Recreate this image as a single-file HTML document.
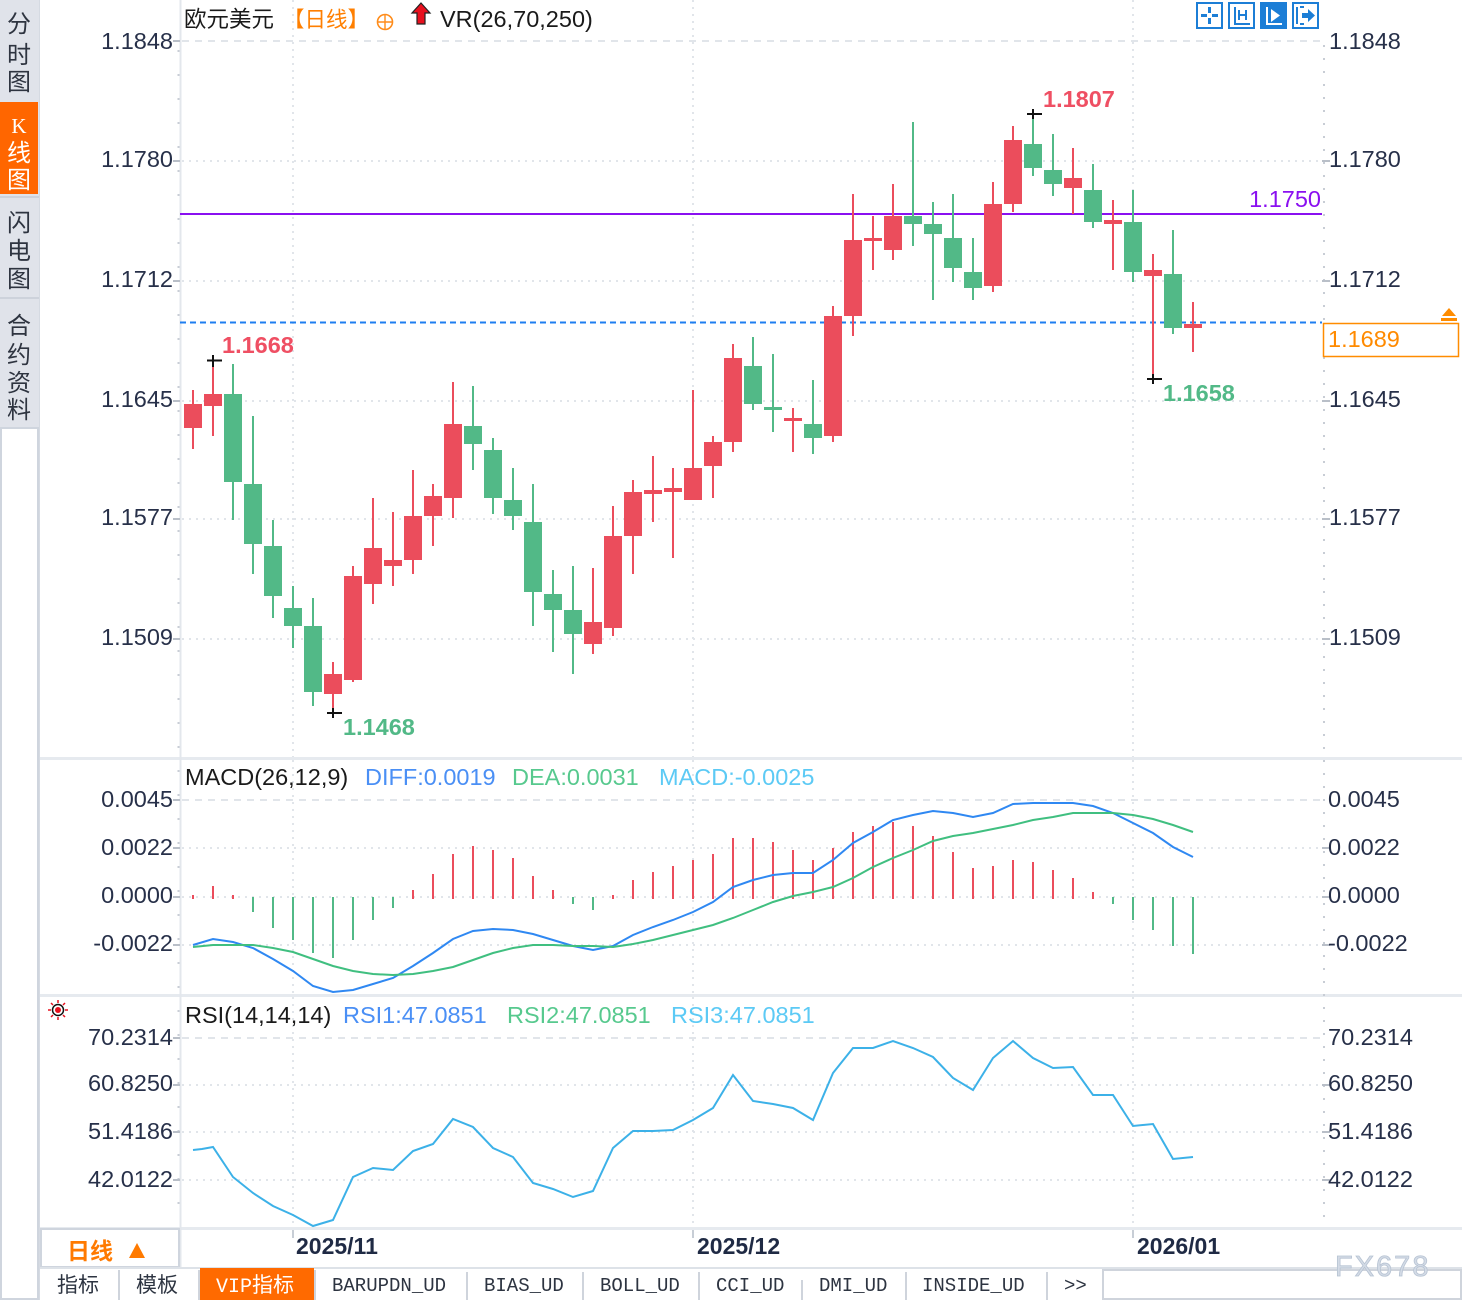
<!DOCTYPE html>
<html><head><meta charset="utf-8"><style>
html,body{margin:0;padding:0;background:#fff;}
svg{display:block;}
text{font-family:"Liberation Sans","Noto Sans CJK SC",sans-serif;}
.cj{font-family:"Noto Sans CJK SC","WenQuanYi Zen Hei",sans-serif;}
.ax{font-size:23.5px;fill:#273049;}
.mono{font-family:"Liberation Mono","Noto Sans CJK SC",monospace;font-size:19px;fill:#2d3441;}
</style></head><body>
<svg width="1462" height="1300" viewBox="0 0 1462 1300" xmlns="http://www.w3.org/2000/svg">
<rect width="1462" height="1300" fill="#fff"/>

<!-- Sidebar -->
<rect x="0" y="0" width="39" height="428" fill="#e0e3ea"/>
<rect x="0" y="102" width="38" height="92" fill="#ff6600"/>
<line x1="0" y1="197" x2="39" y2="197" stroke="#cdd2db" stroke-width="2"/>
<line x1="0" y1="298" x2="39" y2="298" stroke="#cdd2db" stroke-width="2"/>
<rect x="1" y="428" width="37" height="871" fill="#fff" stroke="#cfd5de" stroke-width="2"/>
<g class="cj" font-size="24" fill="#2e3440" text-anchor="middle">
<text x="19" y="32" class="cj">分</text>
<text x="19" y="63" class="cj">时</text>
<text x="19" y="90" class="cj">图</text>
<text x="19" y="133" fill="#fff" style="font-family:'Liberation Serif',serif;font-size:21px">K</text>
<text x="19" y="161" fill="#fff" class="cj">线</text>
<text x="19" y="188" fill="#fff" class="cj">图</text>
<text x="19" y="231" class="cj">闪</text>
<text x="19" y="259" class="cj">电</text>
<text x="19" y="287" class="cj">图</text>
<text x="19" y="334" class="cj">合</text>
<text x="19" y="363" class="cj">约</text>
<text x="19" y="391" class="cj">资</text>
<text x="19" y="418" class="cj">料</text>
</g>
<line x1="39.5" y1="0" x2="39.5" y2="1300" stroke="#d5dae2" stroke-width="1"/>

<!-- Panel separators -->
<rect x="40" y="757" width="1422" height="3" fill="#e6eaef"/>
<rect x="40" y="994" width="1422" height="3" fill="#e6eaef"/>
<rect x="40" y="1227" width="1422" height="3" fill="#e6eaef"/>

<!-- Left axis line -->
<line x1="180.5" y1="0" x2="180.5" y2="1268" stroke="#e3e7ec" stroke-width="2"/>
<line x1="178.5" y1="50" x2="178.5" y2="1225" stroke="#c9ced6" stroke-width="2" stroke-dasharray="2 22"/>
<!-- Right axis dotted -->
<line x1="1324" y1="45" x2="1324" y2="1225" stroke="#c8cdd5" stroke-width="2" stroke-dasharray="2 11"/>

<!-- Main grid -->
<g stroke="#e1e5ea" stroke-width="2" fill="none">
<line x1="182" y1="41" x2="1322" y2="41" stroke-dasharray="7 6"/>
<line x1="182" y1="161" x2="1322" y2="161" stroke-dasharray="2 5"/>
<line x1="182" y1="281" x2="1322" y2="281" stroke-dasharray="2 5"/>
<line x1="182" y1="401" x2="1322" y2="401" stroke-dasharray="2 5"/>
<line x1="182" y1="519" x2="1322" y2="519" stroke-dasharray="2 5"/>
<line x1="182" y1="639" x2="1322" y2="639" stroke-dasharray="2 5"/>
<line x1="293" y1="0" x2="293" y2="757" stroke-dasharray="2 5"/>
<line x1="693" y1="0" x2="693" y2="757" stroke-dasharray="2 5"/>
<line x1="1133" y1="0" x2="1133" y2="757" stroke-dasharray="2 5"/>
<!-- MACD grid -->
<line x1="182" y1="800" x2="1322" y2="800" stroke-dasharray="7 6"/>
<line x1="182" y1="848" x2="1322" y2="848" stroke-dasharray="2 5"/>
<line x1="182" y1="897" x2="1322" y2="897" stroke-dasharray="2 5"/>
<line x1="182" y1="945" x2="1322" y2="945" stroke-dasharray="2 5"/>
<line x1="293" y1="760" x2="293" y2="994" stroke-dasharray="2 5"/>
<line x1="693" y1="760" x2="693" y2="994" stroke-dasharray="2 5"/>
<line x1="1133" y1="760" x2="1133" y2="994" stroke-dasharray="2 5"/>
<!-- RSI grid -->
<line x1="182" y1="1038" x2="1322" y2="1038" stroke-dasharray="7 6"/>
<line x1="182" y1="1085" x2="1322" y2="1085" stroke-dasharray="2 5"/>
<line x1="182" y1="1132" x2="1322" y2="1132" stroke-dasharray="2 5"/>
<line x1="182" y1="1180" x2="1322" y2="1180" stroke-dasharray="2 5"/>
<line x1="293" y1="997" x2="293" y2="1227" stroke-dasharray="2 5"/>
<line x1="693" y1="997" x2="693" y2="1227" stroke-dasharray="2 5"/>
<line x1="1133" y1="997" x2="1133" y2="1227" stroke-dasharray="2 5"/>
</g>

<!-- axis ticks -->
<g stroke="#b9bfc8" stroke-width="2">
<path d="M173 41H180M173 161H180M173 281H180M173 401H180M173 519H180M173 639H180M173 800H180M173 848H180M173 897H180M173 945H180M173 1038H180M173 1085H180M173 1132H180M173 1180H180"/>
<path d="M1322 161H1330M1322 281H1330M1322 401H1330M1322 519H1330M1322 639H1330M1322 848H1330M1322 897H1330M1322 945H1330M1322 1085H1330M1322 1132H1330M1322 1180H1330"/>
</g>

<!-- Left axis labels -->
<g class="ax" text-anchor="end">
<text x="173" y="49" class="ax">1.1848</text>
<text x="173" y="167" class="ax">1.1780</text>
<text x="173" y="287" class="ax">1.1712</text>
<text x="173" y="407" class="ax">1.1645</text>
<text x="173" y="525" class="ax">1.1577</text>
<text x="173" y="645" class="ax">1.1509</text>
<text x="173" y="807" class="ax">0.0045</text>
<text x="173" y="855" class="ax">0.0022</text>
<text x="173" y="903" class="ax">0.0000</text>
<text x="173" y="951" class="ax">-0.0022</text>
<text x="173" y="1045" class="ax">70.2314</text>
<text x="173" y="1091" class="ax">60.8250</text>
<text x="173" y="1139" class="ax">51.4186</text>
<text x="173" y="1187" class="ax">42.0122</text>
</g>
<!-- Right axis labels -->
<g class="ax">
<text x="1329" y="49" class="ax">1.1848</text>
<text x="1329" y="167" class="ax">1.1780</text>
<text x="1329" y="287" class="ax">1.1712</text>
<text x="1329" y="407" class="ax">1.1645</text>
<text x="1329" y="525" class="ax">1.1577</text>
<text x="1329" y="645" class="ax">1.1509</text>
<text x="1328" y="807" class="ax">0.0045</text>
<text x="1328" y="855" class="ax">0.0022</text>
<text x="1328" y="903" class="ax">0.0000</text>
<text x="1328" y="951" class="ax">-0.0022</text>
<text x="1328" y="1045" class="ax">70.2314</text>
<text x="1328" y="1091" class="ax">60.8250</text>
<text x="1328" y="1139" class="ax">51.4186</text>
<text x="1328" y="1187" class="ax">42.0122</text>
</g>

<!-- Header -->
<text x="184" y="27" font-size="22.5" fill="#1a1a1a" class="cj">欧元美元</text>
<text x="283" y="27" font-size="21.5" fill="#ff7f00" class="cj">【日线】</text>
<circle cx="385" cy="22" r="7.5" fill="none" stroke="#ff8c1a" stroke-width="1.6"/>
<path d="M377.5 22H392.5M385 14.5V29.5" stroke="#ff8c1a" stroke-width="1.4"/>
<path d="M421 3L430 13H425V24H417V13H412Z" fill="#e8101e" stroke="#222" stroke-width="1.2"/>
<text x="440" y="27" font-size="23.5" fill="#1a1a1a">VR(26,70,250)</text>

<!-- Top-right buttons -->
<g stroke="#1c7ed6" stroke-width="2" fill="#fff">
<rect x="1197" y="3" width="25" height="25"/>
<rect x="1229" y="3" width="25" height="25"/>
<rect x="1261" y="3" width="25" height="25" fill="#1c7ed6"/>
<rect x="1293" y="3" width="25" height="25"/>
</g>
<g fill="#1c7ed6">
<rect x="1208" y="7" width="3" height="6"/><rect x="1208" y="18" width="3" height="6"/>
<rect x="1201" y="14" width="6" height="3"/><rect x="1212" y="14" width="6" height="3"/>
</g>
<path d="M1235 7V24H1250M1239 10V20M1246 10V20M1239 15H1246" stroke="#1c7ed6" stroke-width="2" fill="none"/>
<path d="M1267 7V24H1282" stroke="#fff" stroke-width="2" fill="none"/>
<path d="M1271 9L1280 15.5L1271 22Z" fill="#fff"/>
<path d="M1297 7V24M1300 7H1304M1300 24H1304" stroke="#1c7ed6" stroke-width="2" fill="none"/>
<path d="M1302 13H1308V9L1315 15.5L1308 22V18H1302Z" fill="#1c7ed6"/>

<!-- Horizontal lines -->
<line x1="180" y1="214" x2="1322" y2="214" stroke="#8a10f0" stroke-width="2"/>
<line x1="180" y1="322.5" x2="1322" y2="322.5" stroke="#1e7ef0" stroke-width="2" stroke-dasharray="6 4"/>

<!-- Candles red -->
<g fill="#eb4d5c">
<rect x="192" y="390" width="2" height="59"/><rect x="184" y="404" width="18" height="24"/>
<rect x="212" y="361" width="2" height="75"/><rect x="204" y="394" width="18" height="12"/>
<rect x="332" y="662" width="2" height="51"/><rect x="324" y="674" width="18" height="20"/>
<rect x="352" y="566" width="2" height="116"/><rect x="344" y="576" width="18" height="104"/>
<rect x="372" y="498" width="2" height="106"/><rect x="364" y="548" width="18" height="36"/>
<rect x="392" y="512" width="2" height="74"/><rect x="384" y="560" width="18" height="6"/>
<rect x="412" y="470" width="2" height="104"/><rect x="404" y="516" width="18" height="44"/>
<rect x="432" y="484" width="2" height="62"/><rect x="424" y="496" width="18" height="20"/>
<rect x="452" y="382" width="2" height="136"/><rect x="444" y="424" width="18" height="74"/>
<rect x="592" y="568" width="2" height="86"/><rect x="584" y="622" width="18" height="22"/>
<rect x="612" y="506" width="2" height="130"/><rect x="604" y="536" width="18" height="92"/>
<rect x="632" y="480" width="2" height="94"/><rect x="624" y="492" width="18" height="44"/>
<rect x="652" y="456" width="2" height="66"/><rect x="644" y="490" width="18" height="4"/>
<rect x="672" y="468" width="2" height="90"/><rect x="664" y="488" width="18" height="4"/>
<rect x="692" y="390" width="2" height="110"/><rect x="684" y="468" width="18" height="32"/>
<rect x="712" y="436" width="2" height="62"/><rect x="704" y="442" width="18" height="24"/>
<rect x="732" y="344" width="2" height="108"/><rect x="724" y="358" width="18" height="84"/>
<rect x="792" y="408" width="2" height="44"/><rect x="784" y="418" width="18" height="3"/>
<rect x="832" y="306" width="2" height="136"/><rect x="824" y="316" width="18" height="120"/>
<rect x="852" y="194" width="2" height="142"/><rect x="844" y="240" width="18" height="76"/>
<rect x="872" y="216" width="2" height="54"/><rect x="864" y="238" width="18" height="3"/>
<rect x="892" y="184" width="2" height="76"/><rect x="884" y="216" width="18" height="34"/>
<rect x="992" y="182" width="2" height="110"/><rect x="984" y="204" width="18" height="82"/>
<rect x="1012" y="126" width="2" height="86"/><rect x="1004" y="140" width="18" height="64"/>
<rect x="1072" y="148" width="2" height="66"/><rect x="1064" y="178" width="18" height="10"/>
<rect x="1112" y="200" width="2" height="70"/><rect x="1104" y="220" width="18" height="4"/>
<rect x="1152" y="254" width="2" height="125"/><rect x="1144" y="270" width="18" height="6"/>
<rect x="1192" y="302" width="2" height="50"/><rect x="1184" y="324" width="18" height="4"/>
</g>
<!-- Candles green -->
<g fill="#52b987">
<rect x="232" y="364" width="2" height="156"/><rect x="224" y="394" width="18" height="88"/>
<rect x="252" y="416" width="2" height="158"/><rect x="244" y="484" width="18" height="60"/>
<rect x="272" y="520" width="2" height="98"/><rect x="264" y="546" width="18" height="50"/>
<rect x="292" y="586" width="2" height="62"/><rect x="284" y="608" width="18" height="18"/>
<rect x="312" y="598" width="2" height="108"/><rect x="304" y="626" width="18" height="66"/>
<rect x="472" y="386" width="2" height="84"/><rect x="464" y="426" width="18" height="18"/>
<rect x="492" y="438" width="2" height="76"/><rect x="484" y="450" width="18" height="48"/>
<rect x="512" y="468" width="2" height="62"/><rect x="504" y="500" width="18" height="16"/>
<rect x="532" y="484" width="2" height="142"/><rect x="524" y="522" width="18" height="70"/>
<rect x="552" y="570" width="2" height="82"/><rect x="544" y="594" width="18" height="16"/>
<rect x="572" y="566" width="2" height="108"/><rect x="564" y="610" width="18" height="24"/>
<rect x="752" y="337" width="2" height="73"/><rect x="744" y="366" width="18" height="38"/>
<rect x="772" y="354" width="2" height="78"/><rect x="764" y="407" width="18" height="3"/>
<rect x="812" y="380" width="2" height="74"/><rect x="804" y="424" width="18" height="14"/>
<rect x="912" y="122" width="2" height="124"/><rect x="904" y="216" width="18" height="8"/>
<rect x="932" y="202" width="2" height="98"/><rect x="924" y="224" width="18" height="10"/>
<rect x="952" y="194" width="2" height="88"/><rect x="944" y="238" width="18" height="30"/>
<rect x="972" y="238" width="2" height="62"/><rect x="964" y="272" width="18" height="16"/>
<rect x="1032" y="114" width="2" height="62"/><rect x="1024" y="144" width="18" height="24"/>
<rect x="1052" y="134" width="2" height="62"/><rect x="1044" y="170" width="18" height="14"/>
<rect x="1092" y="164" width="2" height="64"/><rect x="1084" y="190" width="18" height="32"/>
<rect x="1132" y="190" width="2" height="92"/><rect x="1124" y="222" width="18" height="50"/>
<rect x="1172" y="230" width="2" height="104"/><rect x="1164" y="274" width="18" height="54"/>
</g>

<!-- Cross marks -->
<path d="M207 360.5H222M213 355V367M327 713H342M333 708V718M1027 114H1042M1033 109V119M1147 379H1162M1153 374V384" stroke="#111" stroke-width="2"/>

<!-- Price labels -->
<g font-size="23.5" font-weight="bold">
<text x="222" y="353" fill="#ef4f63">1.1668</text>
<text x="343" y="735" fill="#52b987">1.1468</text>
<text x="1043" y="107" fill="#ef4f63">1.1807</text>
<text x="1163" y="401" fill="#52b987">1.1658</text>
</g>
<text x="1321" y="207" font-size="23.5" fill="#8a10f0" text-anchor="end">1.1750</text>

<!-- Current price box -->
<rect x="1323.5" y="323.5" width="135" height="33" fill="#fff" stroke="#ff8c00" stroke-width="1.5"/>
<text x="1328" y="347" font-size="23.5" fill="#ff8a00">1.1689</text>
<path d="M1449 308L1456 316H1442Z" fill="#ff8c00"/>
<rect x="1441" y="318" width="16" height="3" fill="#ff8c00"/>

<!-- MACD -->
<text x="185" y="785" font-size="23.5" fill="#1a1a1a">MACD(26,12,9)</text>
<text x="365" y="785" font-size="23.5" fill="#4a8ff5">DIFF:0.0019</text>
<text x="512" y="785" font-size="23.5" fill="#57c98e">DEA:0.0031</text>
<text x="659" y="785" font-size="23.5" fill="#5ccaf5">MACD:-0.0025</text>
<path stroke="#eb4d5c" stroke-width="2" d="M193 899V895M213 899V886M233 899V895M413 899V890M433 899V874M453 899V854M473 899V846M493 899V850M513 899V858M533 899V876M553 899V890M613 899V895M633 899V880M653 899V872M673 899V866M693 899V860M713 899V854M733 899V838M753 899V838M773 899V842M793 899V850M813 899V860M833 899V848M853 899V832M873 899V826M893 899V822M913 899V826M933 899V836M953 899V852M973 899V868M993 899V866M1013 899V860M1033 899V862M1053 899V870M1073 899V878M1093 899V892"/>
<path stroke="#52b987" stroke-width="2" d="M253 897V912M273 897V928M293 897V940M313 897V953M333 897V958M353 897V940M373 897V920M393 897V908M573 897V904M593 897V910M1113 897V904M1133 897V920M1153 897V930M1173 897V946M1193 897V954"/>
<polyline fill="none" stroke="#2f88f2" stroke-width="2" points="193,945 213,939 233,942 253,948 273,959 293,971 313,986 333,992 353,990 373,984 393,978 413,966 433,953 453,939 473,931 493,929 513,930 533,934 553,940 573,946 593,950 613,946 633,935 653,927 673,920 693,912 713,902 733,887 753,880 773,875 793,873 813,873 833,860 853,843 873,832 893,820 913,815 933,811 953,813 973,817 993,813 1013,804 1033,803 1053,803 1073,803 1093,806 1113,813 1133,823 1153,833 1173,847 1193,857"/>
<polyline fill="none" stroke="#40bf80" stroke-width="2" points="193,947 213,945 233,945 253,945 273,948 293,952 313,959 333,966 353,971 373,974 393,975 413,974 433,971 453,967 473,960 493,953 513,948 533,945 553,945 573,946 593,946 613,947 633,944 653,940 673,935 693,930 713,925 733,918 753,910 773,902 793,896 813,892 833,887 853,878 873,867 893,858 913,850 933,841 953,836 973,833 993,829 1013,825 1033,820 1053,817 1073,813 1093,813 1113,813 1133,815 1153,819 1173,825 1193,832"/>

<!-- RSI -->
<g stroke="#e8101e" stroke-width="1.5">
<path d="M58 1000V1003M58 1017V1020M48 1010H51M65 1010H68M51 1003L53 1005M65 1003L63 1005M51 1017L53 1015M65 1017L63 1015"/>
</g>
<circle cx="58" cy="1010" r="5.5" fill="#fff" stroke="#111" stroke-width="1.5"/>
<circle cx="58" cy="1010" r="3" fill="#e8101e"/>
<text x="185" y="1023" font-size="23.5" fill="#1a1a1a">RSI(14,14,14)</text>
<text x="343" y="1023" font-size="23.5" fill="#4a8ff5">RSI1:47.0851</text>
<text x="507" y="1023" font-size="23.5" fill="#57c98e">RSI2:47.0851</text>
<text x="671" y="1023" font-size="23.5" fill="#5ccaf5">RSI3:47.0851</text>
<polyline fill="none" stroke="#3cb1e8" stroke-width="2" points="193,1150 202,1149 213,1147 233,1177 253,1193 273,1206 293,1215 313,1226 333,1220 353,1177 373,1168 393,1170 413,1151 433,1144 453,1119 473,1127 493,1148 513,1157 533,1183 553,1189 573,1197 593,1191 613,1148 633,1131 653,1131 673,1130 693,1120 713,1108 733,1075 753,1101 773,1104 793,1108 813,1120 833,1073 853,1048 873,1048 893,1041 913,1048 933,1057 953,1078 973,1090 993,1058 1013,1041 1033,1058 1053,1068 1073,1067 1093,1095 1113,1095 1133,1126 1153,1124 1173,1159 1193,1157"/>

<!-- Date axis -->
<rect x="41" y="1229" width="138" height="38" fill="#fff" stroke="#cfd5de" stroke-width="2"/>
<text x="67" y="1259" font-size="23" font-weight="bold" fill="#ff7a00" class="cj">日线</text>
<path d="M129 1258L137 1243L145 1258Z" fill="#ff7a00"/>
<path d="M293 1230V1238M693 1230V1238M1133 1230V1238" stroke="#c8ced6" stroke-width="2"/>
<g font-size="23" font-weight="bold" fill="#1f2a44">
<text x="296" y="1254">2025/11</text>
<text x="697" y="1254">2025/12</text>
<text x="1137" y="1254">2026/01</text>
</g>

<!-- Bottom tabs -->
<line x1="40" y1="1268" x2="1462" y2="1268" stroke="#dde2e8" stroke-width="2"/>
<rect x="200" y="1268" width="114" height="32" fill="#ff6a00"/>
<g stroke="#cfd4dc" stroke-width="2">
<path d="M119 1270V1300M199 1270V1300M315 1270V1300M467 1272V1300M583 1272V1300M699 1272V1300M802 1280V1300M906 1272V1300M1047 1272V1300"/>
</g>
<rect x="1103" y="1270" width="358" height="29" fill="none" stroke="#cfd4dc" stroke-width="2"/>
<text x="57" y="1292" font-size="21" fill="#2d3441" class="cj">指标</text>
<text x="136" y="1292" font-size="21" fill="#2d3441" class="cj">模板</text>
<text x="216" y="1292" font-size="20" fill="#fff" style="font-family:'Liberation Mono','Noto Sans CJK SC',monospace">VIP<tspan class="cj" font-size="21">指标</tspan></text>
<text x="332" y="1291" class="mono">BARUPDN_UD</text>
<text x="484" y="1291" class="mono">BIAS_UD</text>
<text x="600" y="1291" class="mono">BOLL_UD</text>
<text x="716" y="1291" class="mono">CCI_UD</text>
<text x="819" y="1291" class="mono">DMI_UD</text>
<text x="922" y="1291" class="mono">INSIDE_UD</text>
<text x="1064" y="1291" class="mono">&gt;&gt;</text>

<!-- Watermark -->
<text x="1335" y="1276" font-size="29" letter-spacing="2" fill="#d3dbe6" stroke="#b7c3d3" stroke-width="0.8">FX678</text>
</svg>
</body></html>
